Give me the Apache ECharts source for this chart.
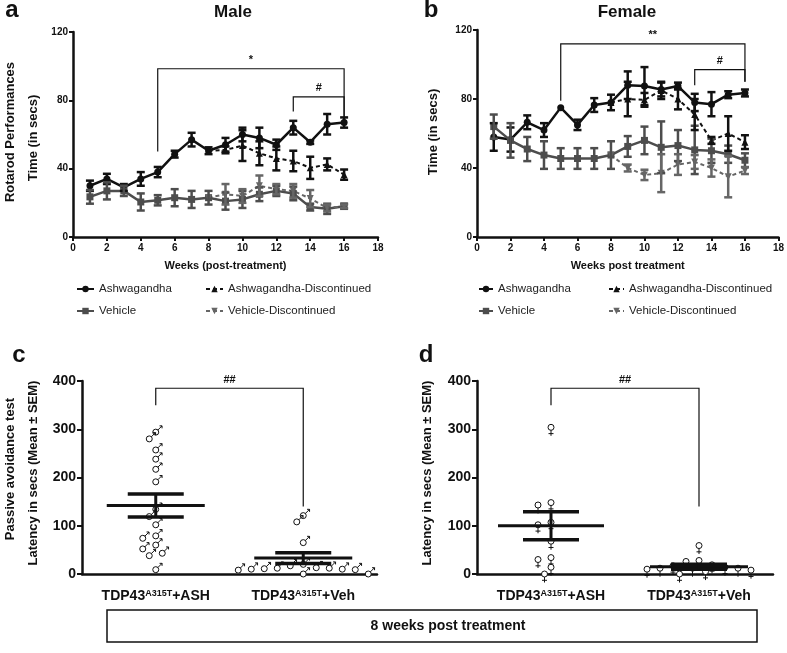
<!DOCTYPE html>
<html>
<head>
<meta charset="utf-8">
<script src="https://cdn.jsdelivr.net/npm/echarts@6/dist/echarts.min.js"></script>
<style>
html, body { margin: 0; padding: 0; background: #fff; }
#chart { width: 787px; height: 653px; }
</style>
</head>
<body>
<div id="chart"></div>
<script>
// rotarod, weeks post treatment
var weeks = [1, 2, 3, 4, 5, 6, 7, 8, 9, 10, 11, 12, 13, 14, 15, 16];

var maleAsh = [30, 34, 29, 34, 38, 48.5, 57, 50.5, 54, 60, 58, 54, 64, 55.5, 66, 67];
var maleAshErr = [3, 3, 2, 4, 3, 2, 4, 2, 4, 4, 6, 3, 4, 1, 6, 3];
var maleAshDisc = [null, null, null, null, null, null, null, 50.5, 51, 53.5, 49, 46, 44.5, 40.5, 42.5, 36.5];
var maleAshDiscErr = [null, null, null, null, null, null, null, null, 2, 9, 7, 7, 6, 6.5, 3.5, 3];
var maleVeh = [23.5, 27, 27, 20.5, 21.5, 23, 22, 23, 21, 22, 25, 27, 25.5, 17.5, 16.5, 18];
var maleVehErr = [4, 5, 3, 5, 3, 5, 5, 4, 5, 5, 4, 3, 4, 2, 3, 1.5];
var maleVehDisc = [null, null, null, null, null, null, null, 23, 25, 24, 30, 28, 27, 22.5, 17, 18];
var maleVehDiscErr = [null, null, null, null, null, null, null, null, 6, 4, 6, 3, 4, 5, 2, 1];

var femAsh = [58, 56.5, 66.5, 62, 75, 65, 76.5, 78, 88, 87.5, 85.5, 87.5, 78, 77, 82.5, 83.5];
var femAshErr = [8, 7, 4, 4, null, 3, 4, 4.5, 8, 11, 4, 2, 5, 7, 2, 2];
var femAshDisc = [null, null, null, null, null, null, null, 78, 80, 79.5, 85, 80, 71, 56, 60, 55];
var femAshDiscErr = [null, null, null, null, null, null, null, null, 10, 4, 5, 6, 9, 2, 10, 4];
var femVeh = [64, 56, 51, 47.5, 45.5, 45.5, 45.5, 47.5, 52.5, 56, 52, 53, 50.5, 50, 48, 44.5];
var femVehErr = [7, 10, 7, 8, 6, 6, 6, 8, 6, 8, 15, 9, 14, 7, 5, 4];
var femVehDisc = [null, null, null, null, null, null, null, 47.5, 40, 36, 37, 42, 43.5, 40, 35, 38.5];
var femVehDiscErr = [null, null, null, null, null, null, null, null, 2, 3, 11, 6, 4, 5, 12, 2];

// brackets: [xStart, legStart, xEnd, legEnd, top]
var maleBrackets = [[5, 50, 16, 69.5, 98.5], [13, 73.5, 16, 69.5, 82]];
var maleBracketText = ['*', '#'];
var femBrackets = [[5, 79, 16, 90, 112], [13, 88, 16, 90, 97]];
var femBracketText = ['**', '#'];

// passive avoidance latency (secs)
var groups = ['+ASH', '+Veh'];
var maleAshLatency = [294, 280, 257, 238, 217, 191, 134, 119, 102, 79, 74, 60, 52, 43, 38, 9];
var maleVehLatency = [121, 108, 65, 20, 17, 13, 12, 12, 11, 10, 10, 9, 8, 0, 0];
var maleStats = [[142, 24], [33, 11]];
var femAshLatency = [304, 148, 143, 107, 102, 68, 34, 30, 14, 0];
var femVehLatency = [59, 28, 26, 19, 17, 14, 12, 12, 12, 10, 8, 5, 0];
var femStats = [[100, 29], [15, 5]];
var latencyBrackets = [[0, 350, 1, 140, 385]];
var latencyBracketText = ['##'];

var FONT = '"Liberation Sans", Arial, sans-serif';
var BLACK = '#111';
var GRAY = '#4d4d4d';
var LGRAY = '#666';

function pairs(ys) {
  var out = [];
  weeks.forEach(function (w, i) { if (ys[i] != null) out.push([w, ys[i]]); });
  return out;
}

function lineSeries(name, gi, ys, color, symbol, dashed, rotate) {
  return {
    type: 'line', name: name, xAxisIndex: gi, yAxisIndex: gi, data: pairs(ys),
    symbol: symbol, symbolSize: 7, symbolRotate: rotate || 0, z: 4,
    itemStyle: { color: color },
    lineStyle: { color: color, width: dashed ? 2 : 2.5, type: dashed ? [4, 3] : 'solid' },
    animation: false
  };
}

function errSeries(gi, ys, es, color) {
  var data = [];
  weeks.forEach(function (w, i) {
    if (ys[i] != null && es[i] != null) data.push([w, ys[i] - es[i], ys[i] + es[i]]);
  });
  return {
    type: 'custom', xAxisIndex: gi, yAxisIndex: gi, silent: true, z: 5, animation: false,
    encode: { x: 0, y: [1, 2] }, data: data,
    renderItem: function (params, api) {
      var lo = api.coord([api.value(0), api.value(1)]);
      var hi = api.coord([api.value(0), api.value(2)]);
      var st = { stroke: color, lineWidth: 2.5 };
      return { type: 'group', children: [
        { type: 'line', shape: { x1: lo[0], y1: lo[1], x2: hi[0], y2: hi[1] }, style: st },
        { type: 'line', shape: { x1: lo[0] - 4, y1: lo[1], x2: lo[0] + 4, y2: lo[1] }, style: st },
        { type: 'line', shape: { x1: hi[0] - 4, y1: hi[1], x2: hi[0] + 4, y2: hi[1] }, style: st }
      ] };
    }
  };
}

function bracketSeries(gi, rows, texts) {
  return {
    type: 'custom', xAxisIndex: gi, yAxisIndex: gi, silent: true, z: 6, animation: false,
    encode: { x: [0, 2], y: [1, 3, 4] }, data: rows,
    renderItem: function (params, api) {
      var a = api.coord([api.value(0), api.value(1)]);
      var b = api.coord([api.value(0), api.value(4)]);
      var c = api.coord([api.value(2), api.value(4)]);
      var d = api.coord([api.value(2), api.value(3)]);
      return { type: 'group', children: [
        { type: 'polyline', shape: { points: [a, b, c, d] }, style: { stroke: BLACK, lineWidth: 1.2, fill: null } },
        { type: 'text', style: { text: texts[params.dataIndex], x: (b[0] + c[0]) / 2, y: b[1] - 3,
          align: 'center', verticalAlign: 'bottom', fontSize: 11, fontWeight: 'bold', fontFamily: FONT, fill: BLACK } }
      ] };
    }
  };
}

// simple beeswarm: pixel offsets so markers do not overlap
function swarm(vals, gridH) {
  var pxPerUnit = gridH / 400, step = 6.5, minDist = 9;
  var placed = [];
  return vals.map(function (v) {
    var y = v * pxPerUnit;
    for (var k = 0; k < 40; k++) {
      var off = (k % 2 ? -1 : 1) * Math.ceil(k / 2) * step;
      var free = placed.every(function (p) {
        var dx = p[0] - off, dy = p[1] - y;
        return dx * dx + dy * dy >= minDist * minDist;
      });
      if (free) { placed.push([off, y]); return off; }
    }
    return 0;
  });
}

function pointSeries(gi, lists, female) {
  var data = [];
  lists.forEach(function (vals, cat) {
    var offs = swarm(vals, 193);
    vals.forEach(function (v, i) { data.push([cat, v, offs[i]]); });
  });
  return {
    type: 'custom', xAxisIndex: gi, yAxisIndex: gi, silent: true, z: 3, animation: false,
    encode: { x: 0, y: 1 }, data: data,
    renderItem: function (params, api) {
      var p = api.coord([api.value(0), api.value(1)]);
      var x = p[0] + api.value(2), y = p[1];
      var st = { stroke: BLACK, lineWidth: 1, fill: null };
      var kids = [{ type: 'circle', shape: { cx: x, cy: y, r: 3 }, style: { stroke: BLACK, lineWidth: 1, fill: '#fff' } }];
      if (female) {
        kids.push({ type: 'line', shape: { x1: x, y1: y + 3, x2: x, y2: y + 8.5 }, style: st });
        kids.push({ type: 'line', shape: { x1: x - 2.5, y1: y + 6.3, x2: x + 2.5, y2: y + 6.3 }, style: st });
      } else {
        kids.push({ type: 'line', shape: { x1: x + 2.1, y1: y - 2.1, x2: x + 6.3, y2: y - 6.3 }, style: st });
        kids.push({ type: 'polyline', shape: { points: [[x + 3.8, y - 6.3], [x + 6.3, y - 6.3], [x + 6.3, y - 3.8]] }, style: st });
      }
      return { type: 'group', children: kids };
    }
  };
}

function statSeries(gi, stats, meanHalf) {
  return {
    type: 'custom', xAxisIndex: gi, yAxisIndex: gi, silent: true, z: 5, animation: false,
    encode: { x: 0, y: 1 }, data: stats.map(function (s, i) { return [i, s[0], s[1]]; }),
    renderItem: function (params, api) {
      var cat = api.value(0), m = api.value(1), s = api.value(2);
      var pm = api.coord([cat, m]), ph = api.coord([cat, m + s]), pl = api.coord([cat, m - s]);
      var half = meanHalf[params.dataIndex];
      return { type: 'group', children: [
        { type: 'line', shape: { x1: pm[0] - half, y1: pm[1], x2: pm[0] + half, y2: pm[1] }, style: { stroke: BLACK, lineWidth: 3 } },
        { type: 'line', shape: { x1: ph[0] - 28, y1: ph[1], x2: ph[0] + 28, y2: ph[1] }, style: { stroke: BLACK, lineWidth: 3.5 } },
        { type: 'line', shape: { x1: pl[0] - 28, y1: pl[1], x2: pl[0] + 28, y2: pl[1] }, style: { stroke: BLACK, lineWidth: 3.5 } },
        { type: 'line', shape: { x1: ph[0], y1: ph[1], x2: pl[0], y2: pl[1] }, style: { stroke: BLACK, lineWidth: 3 } }
      ] };
    }
  };
}

var axisLine = { lineStyle: { color: BLACK, width: 2.5 } };
var axisTick = { length: 4, lineStyle: { color: BLACK, width: 2 } };
var tickLabel = { color: BLACK, fontSize: 10, fontWeight: 'bold', fontFamily: FONT };

function weekAxis(gi, name) {
  return {
    type: 'value', gridIndex: gi, min: 0, max: 18, interval: 2,
    name: name, nameLocation: 'middle', nameGap: 23,
    nameTextStyle: { color: BLACK, fontSize: 11, fontWeight: 'bold', fontFamily: FONT },
    axisLine: axisLine, axisTick: axisTick, splitLine: { show: false },
    axisLabel: Object.assign({ margin: 6 }, tickLabel)
  };
}
function timeAxis(gi) {
  return {
    type: 'value', gridIndex: gi, min: 0, max: 120, interval: 40,
    axisLine: Object.assign({ show: true }, axisLine), axisTick: Object.assign({ show: true }, axisTick),
    splitLine: { show: false }, axisLabel: Object.assign({ margin: 5 }, tickLabel)
  };
}
function groupAxis(gi) {
  return {
    type: 'category', gridIndex: gi, data: groups,
    axisLine: axisLine, axisTick: { alignWithLabel: true, length: 5, lineStyle: { color: BLACK, width: 2 } },
    axisLabel: {
      margin: 15, interval: 0, hideOverlap: false,
      formatter: function (v) { return '{m|TDP43}{s|A315T}{m|' + v + '}'; },
      rich: {
        m: { fontSize: 14, fontWeight: 'bold', fontFamily: FONT, color: BLACK, verticalAlign: 'bottom' },
        s: { fontSize: 9, fontWeight: 'bold', fontFamily: FONT, color: BLACK, verticalAlign: 'top' }
      }
    }
  };
}
function latencyAxis(gi) {
  return {
    type: 'value', gridIndex: gi, min: 0, max: 400, interval: 100,
    axisLine: Object.assign({ show: true }, axisLine), axisTick: Object.assign({ show: true }, axisTick, { length: 5 }),
    splitLine: { show: false },
    axisLabel: { margin: 6, color: BLACK, fontSize: 14, fontWeight: 'bold', fontFamily: FONT }
  };
}

function txt(text, x, y, size, rotate, weight) {
  return {
    type: 'text', x: x, y: y, rotation: rotate ? Math.PI / 2 : 0,
    style: { text: text, align: 'center', verticalAlign: 'middle', fontSize: size,
      fontWeight: weight || 'bold', fontFamily: FONT, fill: BLACK }
  };
}

var legendText = { color: '#222', fontSize: 11.5, fontFamily: FONT };
function legend(left, names, w) {
  return { left: left, top: 283, padding: 0, orient: 'vertical', itemGap: 10, itemWidth: w, itemHeight: 8,
    selectedMode: false, data: names, textStyle: legendText };
}

var option = {
  animation: false,
  grid: [
    { left: 73, top: 32, width: 305, height: 205 },
    { left: 477, top: 30, width: 304, height: 207 },
    { left: 82, top: 381, width: 295, height: 193 },
    { left: 477, top: 381, width: 296, height: 193 }
  ],
  xAxis: [weekAxis(0, 'Weeks (post-treatment)'), weekAxis(1, 'Weeks post treatment'), groupAxis(2), groupAxis(3)],
  yAxis: [timeAxis(0), timeAxis(1), latencyAxis(2), latencyAxis(3)],
  legend: [
    legend(76, ['Ashwagandha', 'Vehicle'], 17),
    legend(205, ['Ashwagandha-Discontinued', 'Vehicle-Discontinued'], 17),
    legend(478, ['Ashwagandha', 'Vehicle'], 14),
    legend(608, ['Ashwagandha-Discontinued', 'Vehicle-Discontinued'], 15)
  ],
  graphic: [
    txt('a', 12, 10, 24), txt('Male', 233, 12, 17),
    txt('b', 431, 10, 24), txt('Female', 627, 12, 17),
    txt('c', 19, 355, 24), txt('d', 426, 355, 24),
    txt('Rotarod Performances', 10, 132, 13, true),
    txt('Time (in secs)', 33, 138, 13, true),
    txt('Time (in secs)', 433, 132, 13, true),
    txt('Passive avoidance test', 10, 469, 13, true),
    txt('Latency in secs (Mean \u00b1 SEM)', 33, 473, 13, true),
    txt('Latency in secs (Mean \u00b1 SEM)', 427, 473, 13, true),
    { type: 'rect', shape: { x: 107, y: 610, width: 650, height: 32 }, style: { fill: '#fff', stroke: BLACK, lineWidth: 1.5 } },
    txt('8 weeks post treatment', 448, 626, 14)
  ],
  series: [
    lineSeries('Ashwagandha', 0, maleAsh, BLACK, 'circle', false),
    lineSeries('Vehicle', 0, maleVeh, GRAY, 'rect', false),
    lineSeries('Ashwagandha-Discontinued', 0, maleAshDisc, BLACK, 'triangle', true),
    lineSeries('Vehicle-Discontinued', 0, maleVehDisc, LGRAY, 'triangle', true, 180),
    errSeries(0, maleAsh, maleAshErr, BLACK),
    errSeries(0, maleVeh, maleVehErr, GRAY),
    errSeries(0, maleAshDisc, maleAshDiscErr, BLACK),
    errSeries(0, maleVehDisc, maleVehDiscErr, LGRAY),
    bracketSeries(0, maleBrackets, maleBracketText),

    lineSeries('Ashwagandha', 1, femAsh, BLACK, 'circle', false),
    lineSeries('Vehicle', 1, femVeh, GRAY, 'rect', false),
    lineSeries('Ashwagandha-Discontinued', 1, femAshDisc, BLACK, 'triangle', true),
    lineSeries('Vehicle-Discontinued', 1, femVehDisc, LGRAY, 'triangle', true, 180),
    errSeries(1, femAsh, femAshErr, BLACK),
    errSeries(1, femVeh, femVehErr, GRAY),
    errSeries(1, femAshDisc, femAshDiscErr, BLACK),
    errSeries(1, femVehDisc, femVehDiscErr, LGRAY),
    bracketSeries(1, femBrackets, femBracketText),

    pointSeries(2, [maleAshLatency, maleVehLatency], false),
    statSeries(2, maleStats, [49, 49]),
    bracketSeries(2, latencyBrackets, latencyBracketText),

    pointSeries(3, [femAshLatency, femVehLatency], true),
    statSeries(3, femStats, [53, 49]),
    bracketSeries(3, latencyBrackets, latencyBracketText)
  ]
};

var chart = echarts.init(document.getElementById('chart'));
chart.setOption(option);
</script>
</body>
</html>
